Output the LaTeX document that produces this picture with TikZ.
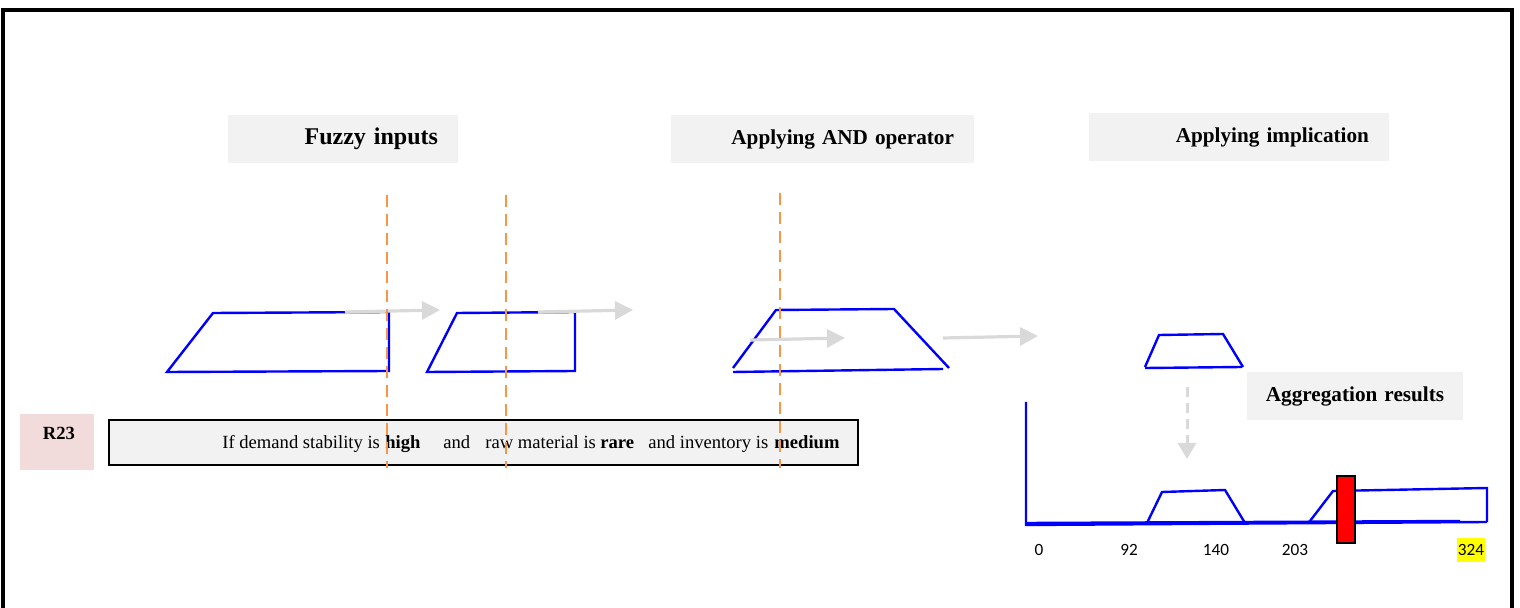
\documentclass[tikz,border=0pt]{standalone}
\usepackage{fontspec}
\setmainfont{Liberation Serif}
\newfontfamily\numfont{Carlito}
\usetikzlibrary{arrows.meta}
\definecolor{boxgray}{HTML}{F2F2F2}
\definecolor{rpink}{HTML}{F2DCDB}
\definecolor{arrgray}{HTML}{D9D9D9}
\definecolor{dashorange}{HTML}{F79646}
\definecolor{mfblue}{HTML}{0000FF}
\definecolor{hlyellow}{HTML}{FFFF00}
\tikzset{
  titlebox/.style={fill=boxgray, inner xsep=10pt, inner ysep=0pt, minimum height=24pt, align=right, font=\bfseries\fontsize{10.6}{12}\selectfont},
  mf/.style={draw=mfblue, line width=1.2pt, line join=miter},
  flowarrow/.style={draw=arrgray, line width=1.6pt, -{Triangle[length=9pt,width=9pt]}},
  cutline/.style={draw=dashorange, line width=1.4pt, dash pattern=on 6pt off 3.5pt},
  ruletext/.style={anchor=base west, inner sep=0pt, font=\fontsize{9.3}{11}\selectfont},
  numlabel/.style={inner sep=1pt, font=\numfont\fontsize{8.6}{10}\selectfont},
}
\begin{document}
\begin{tikzpicture}[x=0.5pt, y=-0.5pt]
\useasboundingbox (0,0) rectangle (1520,608);
% outer frame
\draw[line width=1.6pt] (3,608) -- (3,10) -- (1512,10) -- (1512,608);

% titles
\node[titlebox, text width=95pt, font=\bfseries\fontsize{12}{14}\selectfont] (tfuzzy) at (343,139) {Fuzzy inputs};
\node[titlebox, text width=131.5pt] (tand) at (822.5,139) {Applying AND operator};
\node[titlebox, text width=130pt] (timpl) at (1239,137) {Applying implication};
\node[titlebox, inner xsep=4pt, text width=100pt, align=center] (tagg) at (1355,396) {Aggregation results};

% rule row
\node[fill=rpink, minimum width=37pt, minimum height=28pt, inner sep=0pt] (rbox) at (57,442) {};
\node[inner sep=0pt, font=\bfseries\fontsize{9.3}{11}\selectfont, anchor=base] (rlabel) at (59,440) {R23};
\node[draw=black, line width=1.2pt, fill=boxgray, minimum width=374.5pt, minimum height=22.5pt, inner sep=0pt] (rulebox) at (483.5,442.5) {};
\node[ruletext] (s1) at (222,449) {If demand stability is};
\node[ruletext] (s2) at (385,449) {\bfseries high};
\node[ruletext] (s3) at (443,449) {and};
\node[ruletext] (s4) at (485,449) {raw material is};
\node[ruletext] (s5) at (600,449) {\bfseries rare};
\node[ruletext] (s6) at (648,449) {and inventory is};
\node[ruletext] (s7) at (774,449) {\bfseries medium};

% membership shapes
\draw[mf] (167,372) -- (213,313) -- (389,312) -- (389,371) -- cycle;
\draw[mf] (427,372) -- (457,313) -- (575,312) -- (575,371) -- cycle;
\draw[mf] (733,368) -- (776,310) -- (894,309) -- (949,368);
\draw[mf] (733,372) -- (943,369);
\draw[mf] (1145,367) -- (1159,335) -- (1223,334) -- (1243,367);
\draw[mf] (1145,368) -- (1242,367);

% flow arrows
\coordinate (a1s) at (345,312); \coordinate (a1e) at (440,310);
\coordinate (a2s) at (538,312); \coordinate (a2e) at (633,310);
\coordinate (a3s) at (750,340); \coordinate (a3e) at (845,338);
\coordinate (a4s) at (943,338); \coordinate (a4e) at (1038,336);
\draw[flowarrow] (a1s) -- (a1e);
\draw[flowarrow] (a2s) -- (a2e);
\draw[flowarrow] (a3s) -- (a3e);
\draw[flowarrow] (a4s) -- (a4e);
\coordinate (dns) at (1187,387); \coordinate (dne) at (1187,459);
\draw[draw=arrgray, line width=1.5pt, dash pattern=on 5pt off 3pt, -{Triangle[length=8pt,width=9pt]}] (dns) -- (dne);

% orange cut lines
\coordinate (c1t) at (387,195); \coordinate (c1b) at (387,468);
\coordinate (c2t) at (506,195); \coordinate (c2b) at (506,468);
\coordinate (c3t) at (780,193); \coordinate (c3b) at (780,468);
\draw[cutline] (c1t) -- (c1b);
\draw[cutline] (c2t) -- (c2b);
\draw[cutline] (c3t) -- (c3b);

% aggregation chart
\draw[mf] (1026,402) -- (1026,525) -- (1487,522);
\draw[mf] (1026,523) -- (1460,521);
\draw[mf] (1147,523) -- (1162,492) -- (1225,490) -- (1245,523);
\draw[mf] (1310,521) -- (1333,491) -- (1487,488) -- (1487,522);
\node[draw=black, fill=red, line width=1pt, minimum width=9pt, minimum height=33.5pt, inner sep=0pt] (cut) at (1346,509.5) {};
\node[numlabel] (n0) at (1039,550) {0};
\node[numlabel] (n92) at (1129,550) {92};
\node[numlabel] (n140) at (1216,550) {140};
\node[numlabel] (n203) at (1295,550) {203};
\node[numlabel, fill=hlyellow, inner xsep=0.5pt, minimum height=12pt] (n324) at (1471,550) {324};
\end{tikzpicture}
\end{document}
